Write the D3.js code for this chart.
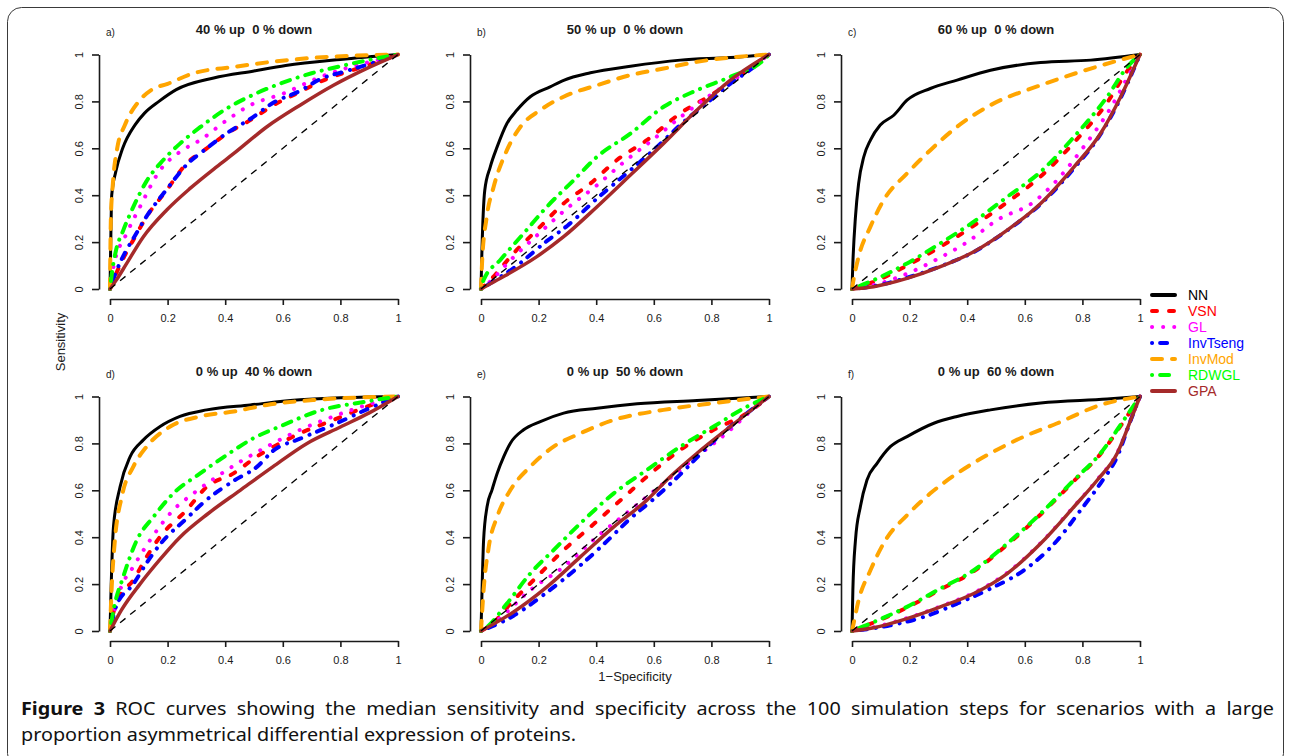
<!DOCTYPE html>
<html>
<head>
<meta charset="utf-8">
<script src="https://cdn.jsdelivr.net/npm/d3@7"></script>
<style>
    body { margin: 0; background: #ffffff; }
    svg text { font-family: Arial, "Liberation Sans", sans-serif; }
</style>
</head>
<body>
<svg id="chart" width="1289" height="756"></svg>
<script>
"use strict";

// ---- data: [1-specificity, sensitivity] per panel a..f ----
var panelTitles = ["40 % up  0 % down", "50 % up  0 % down", "60 % up  0 % down",
                   "0 % up  40 % down", "0 % up  50 % down", "0 % up  60 % down"];
var panelTags = ["a)", "b)", "c)", "d)", "e)", "f)"];
var seriesNames = ["NN", "VSN", "GL", "InvTseng", "InvMod", "RDWGL", "GPA"];
var axisTicks = [0, 0.2, 0.4, 0.6, 0.8, 1];
var axisTickLabels = ["0", "0.2", "0.4", "0.6", "0.8", "1"];
var diagonal = [[0, 0], [1, 1]];

var NN = [
    [[0,0],[0.002,0.15],[0.006,0.4],[0.02,0.5],[0.044,0.6],[0.087,0.7],[0.12,0.75],[0.17,0.8],[0.23,0.85],[0.36,0.9],[0.5,0.93],[0.61,0.953],[0.8,0.979],[1,1]],
    [[0,0],[0.003,0.152],[0.013,0.42],[0.032,0.52],[0.056,0.606],[0.09,0.706],[0.125,0.763],[0.171,0.82],[0.24,0.862],[0.287,0.89],[0.38,0.922],[0.519,0.95],[0.692,0.976],[0.866,0.987],[1,1]],
    [[0,0],[0.003,0.11],[0.012,0.308],[0.023,0.45],[0.041,0.564],[0.064,0.635],[0.098,0.699],[0.145,0.741],[0.191,0.805],[0.272,0.855],[0.365,0.891],[0.481,0.933],[0.655,0.966],[0.829,0.976],[1,1]],
    [[0,0],[0.003,0.145],[0.012,0.444],[0.035,0.615],[0.07,0.744],[0.116,0.815],[0.174,0.872],[0.243,0.915],[0.336,0.943],[0.487,0.964],[0.66,0.986],[1,1]],
    [[0,0],[0.003,0.145],[0.009,0.387],[0.021,0.53],[0.038,0.601],[0.056,0.672],[0.079,0.744],[0.102,0.801],[0.148,0.858],[0.206,0.893],[0.287,0.929],[0.403,0.95],[0.542,0.969],[0.75,0.983],[1,1]],
    [[0,0],[0.003,0.174],[0.012,0.387],[0.029,0.53],[0.052,0.644],[0.087,0.715],[0.133,0.786],[0.191,0.829],[0.284,0.886],[0.365,0.915],[0.481,0.943],[0.655,0.972],[0.886,0.989],[1,1]]
];
var VSN = [
    [[0,0],[0.017,0.053],[0.05,0.14],[0.081,0.209],[0.127,0.308],[0.197,0.422],[0.266,0.535],[0.336,0.6],[0.406,0.663],[0.487,0.72],[0.568,0.784],[0.66,0.841],[0.73,0.884],[0.823,0.926],[0.915,0.962],[1,1]],
    [[0,0],[0.032,0.038],[0.113,0.152],[0.206,0.266],[0.287,0.365],[0.38,0.45],[0.472,0.55],[0.576,0.635],[0.692,0.749],[0.808,0.834],[0.924,0.933],[1,1]],
    [[0,0],[0.075,0.03],[0.191,0.1],[0.307,0.18],[0.423,0.27],[0.539,0.37],[0.655,0.48],[0.771,0.625],[0.886,0.795],[0.956,0.93],[1,1]],
    [[0,0],[0.012,0.08],[0.03,0.14],[0.081,0.217],[0.127,0.316],[0.174,0.402],[0.266,0.516],[0.336,0.615],[0.429,0.672],[0.51,0.744],[0.568,0.786],[0.66,0.843],[0.776,0.9],[0.892,0.957],[1,1]],
    [[0,0],[0.032,0.024],[0.113,0.131],[0.194,0.231],[0.287,0.345],[0.38,0.444],[0.472,0.544],[0.576,0.658],[0.692,0.772],[0.808,0.858],[0.924,0.929],[1,1]],
    [[0,0],[0.075,0.036],[0.191,0.1],[0.307,0.177],[0.423,0.255],[0.539,0.368],[0.655,0.497],[0.771,0.64],[0.863,0.755],[0.944,0.895],[1,1]]
];
var GL = [
    [[0,0],[0.012,0.095],[0.058,0.237],[0.104,0.35],[0.174,0.507],[0.243,0.585],[0.313,0.635],[0.406,0.72],[0.487,0.784],[0.603,0.834],[0.718,0.898],[0.834,0.947],[0.95,0.983],[1,1]],
    [[0,0],[0.03,0.03],[0.1,0.12],[0.2,0.235],[0.3,0.345],[0.4,0.44],[0.5,0.545],[0.6,0.64],[0.7,0.74],[0.8,0.83],[0.9,0.91],[1,1]],
    [[0,0],[0.1,0.025],[0.2,0.07],[0.3,0.13],[0.4,0.2],[0.504,0.294],[0.632,0.372],[0.701,0.45],[0.805,0.607],[0.897,0.77],[0.96,0.91],[1,1]],
    [[0,0],[0.035,0.174],[0.081,0.274],[0.139,0.387],[0.22,0.516],[0.29,0.587],[0.371,0.658],[0.452,0.722],[0.545,0.786],[0.66,0.858],[0.776,0.915],[0.892,0.964],[1,1]],
    [[0,0],[0.056,0.046],[0.171,0.174],[0.287,0.274],[0.403,0.402],[0.519,0.516],[0.634,0.63],[0.75,0.744],[0.866,0.858],[0.935,0.936],[1,1]],
    [[0,0],[0.075,0.016],[0.191,0.055],[0.307,0.105],[0.423,0.163],[0.539,0.248],[0.655,0.375],[0.771,0.532],[0.852,0.646],[0.921,0.76],[0.968,0.9],[1,1]]
];
var InvTseng = [
    [[0,0],[0.017,0.06],[0.05,0.15],[0.081,0.215],[0.127,0.31],[0.197,0.425],[0.266,0.53],[0.336,0.6],[0.406,0.665],[0.487,0.725],[0.568,0.795],[0.66,0.845],[0.73,0.895],[0.823,0.93],[0.915,0.965],[1,1]],
    [[0,0],[0.032,0.024],[0.125,0.1],[0.229,0.205],[0.3,0.27],[0.403,0.386],[0.519,0.507],[0.611,0.606],[0.704,0.713],[0.796,0.805],[0.866,0.876],[0.935,0.935],[1,1]],
    [[0,0],[0.075,0.012],[0.191,0.048],[0.307,0.097],[0.423,0.158],[0.539,0.25],[0.655,0.362],[0.771,0.515],[0.863,0.66],[0.933,0.815],[1,1]],
    [[0,0],[0.023,0.11],[0.081,0.2],[0.127,0.29],[0.174,0.37],[0.266,0.48],[0.336,0.56],[0.429,0.64],[0.51,0.7],[0.568,0.77],[0.66,0.82],[0.776,0.88],[0.892,0.945],[1,1]],
    [[0,0],[0.113,0.065],[0.229,0.165],[0.345,0.28],[0.426,0.37],[0.519,0.48],[0.611,0.575],[0.692,0.668],[0.808,0.81],[0.924,0.929],[1,1]],
    [[0,0],[0.133,0.024],[0.249,0.06],[0.365,0.117],[0.481,0.181],[0.597,0.259],[0.713,0.387],[0.794,0.516],[0.863,0.63],[0.921,0.744],[0.968,0.9],[1,1]]
];
var InvMod = [
    [[0,0],[0.003,0.3],[0.01,0.45],[0.025,0.6],[0.052,0.7],[0.1,0.8],[0.145,0.85],[0.2,0.875],[0.29,0.92],[0.43,0.947],[0.57,0.97],[0.72,0.987],[0.89,0.997],[1,1]],
    [[0,0],[0.004,0.12],[0.02,0.308],[0.044,0.436],[0.09,0.592],[0.137,0.692],[0.206,0.763],[0.287,0.82],[0.403,0.869],[0.519,0.912],[0.634,0.94],[0.75,0.969],[0.866,0.987],[1,1]],
    [[0,0],[0.004,0.03],[0.023,0.138],[0.064,0.266],[0.11,0.379],[0.191,0.493],[0.272,0.592],[0.365,0.692],[0.481,0.784],[0.655,0.869],[0.829,0.94],[1,1]],
    [[0,0],[0.006,0.188],[0.017,0.387],[0.041,0.573],[0.081,0.701],[0.127,0.786],[0.209,0.872],[0.313,0.915],[0.429,0.936],[0.545,0.964],[0.718,0.986],[1,1]],
    [[0,0],[0.009,0.174],[0.027,0.359],[0.056,0.487],[0.102,0.601],[0.171,0.701],[0.252,0.786],[0.345,0.843],[0.461,0.9],[0.634,0.943],[0.808,0.972],[1,1]],
    [[0,0],[0.003,0.017],[0.023,0.131],[0.064,0.259],[0.116,0.387],[0.191,0.494],[0.272,0.587],[0.365,0.672],[0.481,0.758],[0.597,0.829],[0.713,0.886],[0.863,0.964],[1,1]]
];
var RDWGL = [
    [[0,0],[0.008,0.08],[0.02,0.16],[0.046,0.25],[0.081,0.35],[0.127,0.46],[0.185,0.55],[0.243,0.62],[0.313,0.69],[0.406,0.77],[0.5,0.83],[0.6,0.88],[0.7,0.92],[0.8,0.95],[0.9,0.977],[1,1]],
    [[0,0],[0.009,0.038],[0.067,0.124],[0.148,0.237],[0.229,0.351],[0.322,0.464],[0.403,0.564],[0.519,0.663],[0.634,0.777],[0.75,0.848],[0.866,0.905],[0.981,0.976],[1,1]],
    [[0,0],[0.075,0.038],[0.191,0.109],[0.307,0.195],[0.423,0.287],[0.539,0.393],[0.655,0.5],[0.771,0.649],[0.886,0.82],[0.956,0.947],[1,1]],
    [[0,0],[0.012,0.088],[0.046,0.231],[0.093,0.387],[0.151,0.487],[0.22,0.587],[0.313,0.672],[0.406,0.751],[0.498,0.822],[0.603,0.879],[0.718,0.936],[0.892,0.979],[1,1]],
    [[0,0],[0.021,0.017],[0.09,0.117],[0.171,0.245],[0.252,0.345],[0.345,0.459],[0.461,0.587],[0.576,0.687],[0.692,0.786],[0.808,0.872],[0.924,0.957],[1,1]],
    [[0,0],[0.075,0.038],[0.191,0.103],[0.307,0.181],[0.423,0.259],[0.539,0.373],[0.655,0.501],[0.771,0.644],[0.863,0.758],[0.944,0.9],[1,1]]
];
var GPA = [
    [[0,0],[0.023,0.04],[0.058,0.109],[0.116,0.223],[0.197,0.337],[0.278,0.429],[0.37,0.521],[0.43,0.578],[0.545,0.692],[0.66,0.784],[0.776,0.869],[0.89,0.94],[1,1]],
    [[0,0],[0.056,0.038],[0.194,0.138],[0.287,0.223],[0.403,0.351],[0.519,0.486],[0.634,0.621],[0.75,0.763],[0.866,0.891],[1,1]],
    [[0,0],[0.075,0.01],[0.191,0.045],[0.307,0.095],[0.423,0.159],[0.539,0.251],[0.655,0.365],[0.771,0.521],[0.863,0.663],[0.933,0.82],[1,1]],
    [[0,0],[0.04,0.09],[0.104,0.2],[0.17,0.3],[0.243,0.4],[0.34,0.5],[0.452,0.6],[0.565,0.7],[0.684,0.8],[0.8,0.87],[0.9,0.93],[1,1]],
    [[0,0],[0.113,0.081],[0.229,0.188],[0.345,0.316],[0.461,0.444],[0.576,0.558],[0.657,0.658],[0.75,0.758],[0.866,0.872],[1,1]],
    [[0,0],[0.075,0.014],[0.191,0.053],[0.307,0.103],[0.423,0.16],[0.539,0.245],[0.655,0.373],[0.771,0.53],[0.852,0.644],[0.921,0.758],[0.968,0.9],[1,1]]
];
var curves = [NN, VSN, GL, InvTseng, InvMod, RDWGL, GPA];

var captionLine1 = "Figure 3 ROC curves showing the median sensitivity and specificity across the 100 simulation steps for scenarios with a large";
var captionLine2 = "proportion asymmetrical differential expression of proteins.";

// ---- styles (R lty 1..6 look) ----
var seriesColors = ["#000000", "#ff0000", "#ff00ff", "#0000ff", "#ffa500", "#00ff00", "#a52a2a"];
var seriesWidths = [3, 4, 4, 4, 4, 4, 3.5];
var seriesDashes = [null, "5,12", "0.1,11", "0.1,8,7,9", "10,10", "0.1,8,9,8", null];

var colX = [110, 481, 852];
var rowY = [54.5, 396.5];
var plotW = 288, plotH = 234.5;
var ink = "#1a1a1a";

var svg = d3.select("#chart");

svg.append("rect")
    .attr("x", 7.5)
    .attr("y", 7.5)
    .attr("width", 1276)
    .attr("height", 760)
    .attr("rx", 14)
    .attr("fill", "none")
    .attr("stroke", "#3a3a3a")
    .attr("stroke-width", 1)
;

var x = d3.scaleLinear().domain([0, 1]).range([0, plotW]);
var y = d3.scaleLinear().domain([0, 1]).range([plotH, 0]);
var line = d3.line()
    .x(function (d) { return x(d[0]); })
    .y(function (d) { return y(d[1]); })
    .curve(d3.curveMonotoneX)
;

function styleAxis(g) {
    g.attr("font-family", null).attr("font-size", 11);
    g.selectAll("path, line").attr("stroke", ink).attr("stroke-width", 1.6);
    g.selectAll("text").attr("fill", ink);
}

panelTitles.forEach(function (title, i) {
    var col = i % 3, row = Math.floor(i / 3);
    var g = svg.append("g")
        .attr("transform", "translate(" + colX[col] + "," + rowY[row] + ")");

    g.append("text")
        .attr("x", plotW / 2)
        .attr("y", -20.5)
        .attr("text-anchor", "middle")
        .attr("font-size", 13)
        .attr("font-weight", "bold")
        .style("white-space", "pre")
        .attr("fill", ink)
        .text(title)
    ;
    g.append("text")
        .attr("x", -4)
        .attr("y", -19)
        .attr("font-size", 10)
        .attr("fill", ink)
        .text(panelTags[i])
    ;

    var gx = g.append("g")
        .attr("transform", "translate(0," + (plotH + 10) + ")")
        .call(d3.axisBottom(x)
            .tickValues(axisTicks)
            .tickFormat(function (d, k) { return axisTickLabels[k]; })
            .tickSize(6)
            .tickSizeOuter(0)
            .tickPadding(9))
    ;
    styleAxis(gx);

    var gy = g.append("g")
        .attr("transform", "translate(-11,0)")
        .call(d3.axisLeft(y)
            .tickValues(axisTicks)
            .tickFormat(function (d, k) { return axisTickLabels[k]; })
            .tickSize(7)
            .tickSizeOuter(0))
    ;
    styleAxis(gy);
    gy.selectAll(".tick text")
        .attr("transform", "rotate(-90)")
        .attr("x", 0)
        .attr("y", -16)
        .attr("dy", null)
        .attr("text-anchor", "middle")
    ;

    var gl = g.append("g").attr("class", "curves");
    curves.forEach(function (series, s) {
        gl.append("path")
            .datum(series[i])
            .attr("d", line)
            .attr("fill", "none")
            .attr("stroke", seriesColors[s])
            .attr("stroke-width", seriesWidths[s])
            .attr("stroke-dasharray", seriesDashes[s])
            .attr("stroke-linecap", "round")
            .attr("stroke-linejoin", "round")
        ;
    });
    gl.append("path")
        .datum(diagonal)
        .attr("d", d3.line().x(function (d) { return x(d[0]); }).y(function (d) { return y(d[1]); }))
        .attr("fill", "none")
        .attr("stroke", "#000")
        .attr("stroke-width", 1.3)
        .attr("stroke-dasharray", "7,6")
    ;
});

// shared axis titles
svg.append("text")
    .attr("transform", "translate(65,342) rotate(-90)")
    .attr("text-anchor", "middle")
    .attr("font-size", 13)
    .attr("fill", ink)
    .text("Sensitivity")
;
svg.append("text")
    .attr("x", 635)
    .attr("y", 681)
    .attr("text-anchor", "middle")
    .attr("font-size", 13)
    .attr("fill", ink)
    .text("1\u2212Specificity")
;

// legend
var legend = svg.append("g").attr("transform", "translate(1150,295)");
seriesNames.forEach(function (name, s) {
    var row = legend.append("g").attr("transform", "translate(0," + (s * 16) + ")");
    row.append("line")
        .attr("x1", 2).attr("x2", 25)
        .attr("stroke", seriesColors[s])
        .attr("stroke-width", 4)
        .attr("stroke-dasharray", seriesDashes[s])
        .attr("stroke-linecap", "round")
    ;
    row.append("text")
        .attr("x", 38)
        .attr("dy", "0.36em")
        .attr("font-size", 14)
        .attr("fill", seriesColors[s])
        .text(name)
    ;
});

// caption: glyphs widened to the figure's measure, first line justified
var capFont = "'Noto Sans', 'Open Sans', sans-serif";
var capX = 21, capRight = 1274, capSize = 18, line2Width = 555;
var cap = svg.append("g").attr("class", "caption");

var second = cap.append("text")
    .attr("x", capX)
    .attr("y", 741)
    .style("font-family", capFont)
    .attr("font-size", capSize)
    .attr("fill", "#111")
    .text(captionLine2)
;
var stretch = line2Width / second.node().getComputedTextLength();
second
    .attr("textLength", line2Width)
    .attr("lengthAdjust", "spacingAndGlyphs")
;

var words = captionLine1.split(" ");
var nodes = words.map(function (w, k) {
    return cap.append("text")
        .attr("y", 715)
        .style("font-family", capFont)
        .attr("font-size", capSize)
        .attr("font-weight", k < 2 ? "bold" : "normal")
        .attr("fill", "#111")
        .text(w);
});
var widths = nodes.map(function (n) { return n.node().getComputedTextLength() * stretch; });
var gap = (capRight - capX - d3.sum(widths)) / (words.length - 1);
var cx = capX;
nodes.forEach(function (n, k) {
    n.attr("x", cx)
        .attr("textLength", widths[k])
        .attr("lengthAdjust", "spacingAndGlyphs");
    cx += widths[k] + gap;
});
</script>
</body>
</html>
